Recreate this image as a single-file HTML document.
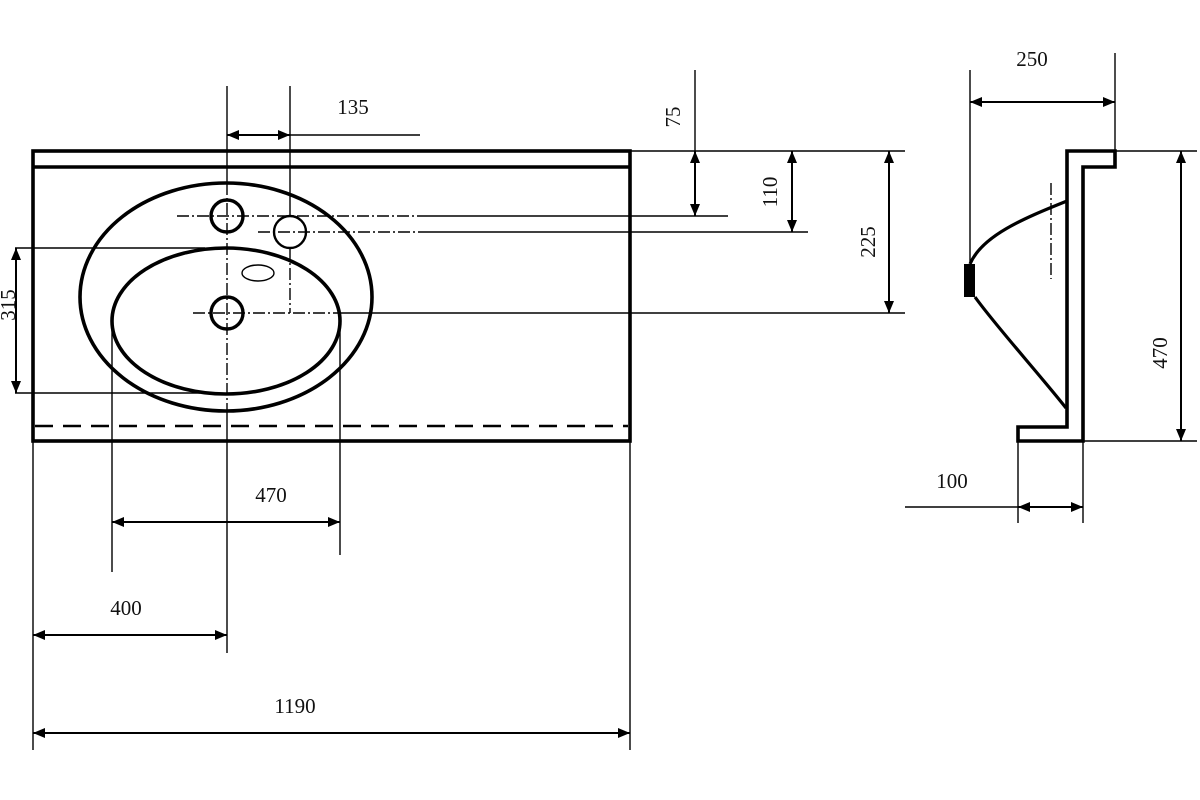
<!DOCTYPE html>
<html><head><meta charset="utf-8"><style>
html,body{margin:0;padding:0;background:#fff;}
svg{display:block;}
text{font-family:"Liberation Serif",serif;font-size:21px;fill:#111;}
</style></head><body>
<svg width="1200" height="800" viewBox="0 0 1200 800" xmlns="http://www.w3.org/2000/svg">
<defs>
<marker id="a" viewBox="0 0 12 10" refX="12" refY="5" markerWidth="12" markerHeight="10" markerUnits="userSpaceOnUse" orient="auto-start-reverse"><path d="M0,0 L12,5 L0,10z" fill="#000"/></marker>
</defs>
<rect width="1200" height="800" fill="#fff"/>
<g stroke="#000" fill="none">
<!-- main countertop -->
<rect x="33" y="151" width="597" height="290" stroke-width="3.6"/>
<line x1="33" y1="167" x2="630" y2="167" stroke-width="3.6"/>
<line x1="35" y1="426" x2="628" y2="426" stroke-width="2.6" stroke-dasharray="18 10"/>
<!-- basin -->
<ellipse cx="226" cy="297" rx="146" ry="114" stroke-width="3.6"/>
<ellipse cx="226" cy="321" rx="114" ry="73" stroke-width="3.6"/>
<circle cx="227" cy="216" r="16" stroke-width="3.4"/>
<circle cx="290" cy="232" r="16" stroke-width="2.4"/>
<circle cx="227" cy="313" r="16" stroke-width="3.4"/>
<ellipse cx="258" cy="273" rx="16" ry="8" stroke-width="1.4"/>
</g>
<g stroke="#000" fill="none" stroke-width="1.4">
<!-- centre lines -->
<line x1="227" y1="86" x2="227" y2="183"/>
<line x1="227" y1="183" x2="227" y2="411" stroke-dasharray="12 3 2 3"/>
<line x1="227" y1="411" x2="227" y2="653"/>
<line x1="290" y1="86" x2="290" y2="216"/>
<line x1="290" y1="248" x2="290" y2="313" stroke-dasharray="12 3 2 3"/>
<line x1="290" y1="135" x2="420" y2="135"/>
<line x1="177" y1="216" x2="420" y2="216" stroke-dasharray="12 3 2 3"/>
<line x1="420" y1="216" x2="728" y2="216"/>
<line x1="258" y1="232" x2="420" y2="232" stroke-dasharray="12 3 2 3"/>
<line x1="420" y1="232" x2="808" y2="232"/>
<line x1="193" y1="313" x2="340" y2="313" stroke-dasharray="12 3 2 3"/>
<line x1="340" y1="313" x2="905" y2="313"/>
<!-- 315 extension -->
<line x1="15" y1="248" x2="205" y2="248"/>
<line x1="15" y1="393" x2="200" y2="393"/>
<!-- right extensions -->
<line x1="630" y1="151" x2="905" y2="151"/>
<line x1="695" y1="70" x2="695" y2="151"/>
<!-- bottom extensions -->
<line x1="33" y1="441" x2="33" y2="750"/>
<line x1="630" y1="441" x2="630" y2="750"/>
<line x1="112" y1="330" x2="112" y2="572"/>
<line x1="340" y1="320" x2="340" y2="555"/>
<!-- arrows -->
<g stroke-width="2">
<line x1="227" y1="135" x2="290" y2="135" marker-start="url(#a)" marker-end="url(#a)"/>
<line x1="112" y1="522" x2="340" y2="522" marker-start="url(#a)" marker-end="url(#a)"/>
<line x1="33" y1="635" x2="227" y2="635" marker-start="url(#a)" marker-end="url(#a)"/>
<line x1="33" y1="733" x2="630" y2="733" marker-start="url(#a)" marker-end="url(#a)"/>
<line x1="16" y1="248" x2="16" y2="393" marker-start="url(#a)" marker-end="url(#a)"/>
<line x1="695" y1="151" x2="695" y2="216" marker-start="url(#a)" marker-end="url(#a)"/>
<line x1="792" y1="151" x2="792" y2="232" marker-start="url(#a)" marker-end="url(#a)"/>
<line x1="889" y1="151" x2="889" y2="313" marker-start="url(#a)" marker-end="url(#a)"/>
<line x1="970" y1="102" x2="1115" y2="102" marker-start="url(#a)" marker-end="url(#a)"/>
<line x1="1181" y1="151" x2="1181" y2="441" marker-start="url(#a)" marker-end="url(#a)"/>
<line x1="1018" y1="507" x2="1083" y2="507" marker-start="url(#a)" marker-end="url(#a)"/>
</g>
<!-- profile dims -->
<line x1="970" y1="70" x2="970" y2="263"/>
<line x1="1115" y1="53" x2="1115" y2="151"/>
<line x1="1115" y1="151" x2="1197" y2="151"/>
<line x1="1083" y1="441" x2="1197" y2="441"/>
<line x1="1018" y1="441" x2="1018" y2="523"/>
<line x1="1083" y1="441" x2="1083" y2="523"/>
<line x1="905" y1="507" x2="1018" y2="507"/>
<line x1="1051" y1="183" x2="1051" y2="279" stroke-dasharray="12 3 2 3"/>
</g>
<!-- profile -->
<g stroke="#000" fill="none" stroke-width="3.6">
<path d="M1067,151 H1115 V167 H1083 V441 H1018 V427 H1067 Z" stroke-linejoin="miter"/>
<path d="M1067,201 C1022,219 982,236 970,264" stroke-width="3.2"/>
<path d="M975,297 C995,325 1040,375 1066,408" stroke-width="3.2"/>
</g>
<rect x="964" y="264" width="11" height="33" fill="#000"/>
<!-- labels -->
<text x="353" y="114" text-anchor="middle">135</text>
<text transform="translate(673,117) rotate(-90)" text-anchor="middle" dy="7">75</text>
<text transform="translate(770,192) rotate(-90)" text-anchor="middle" dy="7">110</text>
<text transform="translate(868,242) rotate(-90)" text-anchor="middle" dy="7">225</text>
<text transform="translate(8,305) rotate(-90)" text-anchor="middle" dy="7">315</text>
<text x="271" y="502" text-anchor="middle">470</text>
<text x="126" y="615" text-anchor="middle">400</text>
<text x="295" y="713" text-anchor="middle">1190</text>
<text x="1032" y="66" text-anchor="middle">250</text>
<text transform="translate(1160,353) rotate(-90)" text-anchor="middle" dy="7">470</text>
<text x="952" y="488" text-anchor="middle">100</text>
</svg>
</body></html>
